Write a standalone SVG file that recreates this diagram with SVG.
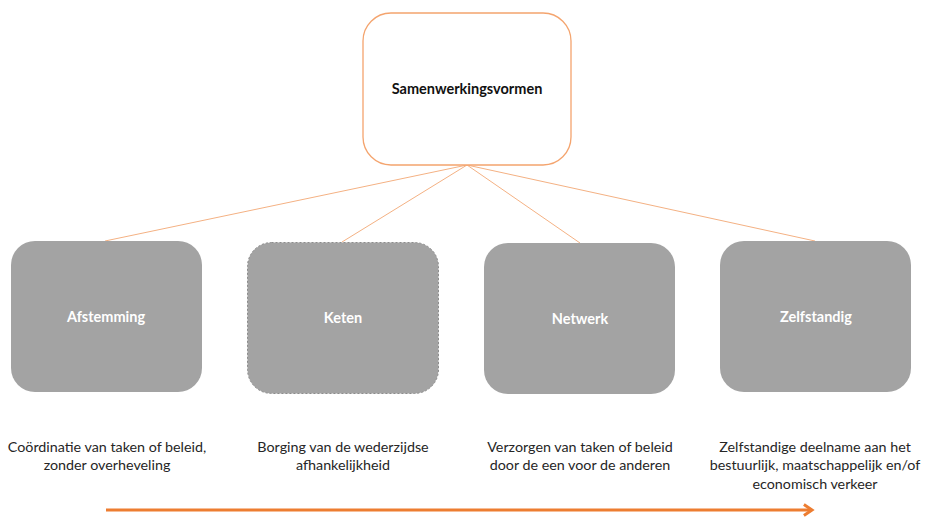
<svg xmlns="http://www.w3.org/2000/svg" width="928" height="517" viewBox="0 0 928 517">
  <defs>
    <marker id="chev" viewBox="0 0 10 10" refX="8" refY="5" markerWidth="4.5" markerHeight="4.5" orient="auto" markerUnits="strokeWidth">
      <path d="M2,1 L8,5 L2,9" fill="none" stroke="#ED7D31" stroke-width="2.2"/>
    </marker>
  </defs>
  <style>
    .root { fill: #ffffff; stroke: #F4A46E; stroke-width: 1.3; }
    .box { fill: #A3A3A3; }
    .dashed { stroke: #8C8C8C; stroke-width: 1; stroke-dasharray: 2 2; }
    .title { font-family: Lato, "Open Sans", "Liberation Sans", sans-serif; font-weight: bold; font-size: 14.5px; fill: #111; text-anchor: middle; }
    .lbl { font-family: Lato, "Open Sans", "Liberation Sans", sans-serif; font-weight: bold; font-size: 14.5px; fill: #ffffff; text-anchor: middle; }
    .desc { font-family: Lato, "Open Sans", "Liberation Sans", sans-serif; font-size: 14.3px; fill: #262626; text-anchor: middle; }
    .link { stroke: #F4B183; stroke-width: 1; fill: none; }
    .scale { stroke: #ED7D31; stroke-width: 3; fill: none; }
  </style>

  <g id="connectors">
    <line class="link" x1="467" y1="165" x2="105" y2="241"/>
    <line class="link" x1="467" y1="165" x2="342" y2="242"/>
    <line class="link" x1="467" y1="165" x2="580" y2="243"/>
    <line class="link" x1="467" y1="165" x2="815" y2="241"/>
    <line class="scale" x1="106" y1="510" x2="812" y2="510" marker-end="url(#chev)"/>
  </g>

  <g id="samenwerkingsvormen">
    <rect class="root" x="363" y="13" width="208" height="152" rx="28" ry="28"/>
    <text class="title" x="467" y="94">Samenwerkingsvormen</text>
  </g>

  <g id="afstemming">
    <rect class="box" x="11" y="241" width="191" height="151" rx="24" ry="24"/>
    <text class="lbl" x="106" y="322">Afstemming</text>
    <text class="desc" x="107" y="452">Coördinatie van taken of beleid,</text>
    <text class="desc" x="107" y="470">zonder overheveling</text>
  </g>

  <g id="keten">
    <rect class="box dashed" x="247.5" y="242.5" width="191" height="151" rx="24" ry="24"/>
    <text class="lbl" x="343" y="323">Keten</text>
    <text class="desc" x="343" y="452">Borging van de wederzijdse</text>
    <text class="desc" x="343" y="470">afhankelijkheid</text>
  </g>

  <g id="netwerk">
    <rect class="box" x="484" y="243" width="191" height="151" rx="24" ry="24"/>
    <text class="lbl" x="580" y="324">Netwerk</text>
    <text class="desc" x="580" y="452">Verzorgen van taken of beleid</text>
    <text class="desc" x="580" y="470">door de een voor de anderen</text>
  </g>

  <g id="zelfstandig">
    <rect class="box" x="720" y="241" width="191" height="151" rx="24" ry="24"/>
    <text class="lbl" x="816" y="322">Zelfstandig</text>
    <text class="desc" x="815" y="452">Zelfstandige deelname aan het</text>
    <text class="desc" x="815" y="470">bestuurlijk, maatschappelijk en/of</text>
    <text class="desc" x="815" y="489">economisch verkeer</text>
  </g>
</svg>
